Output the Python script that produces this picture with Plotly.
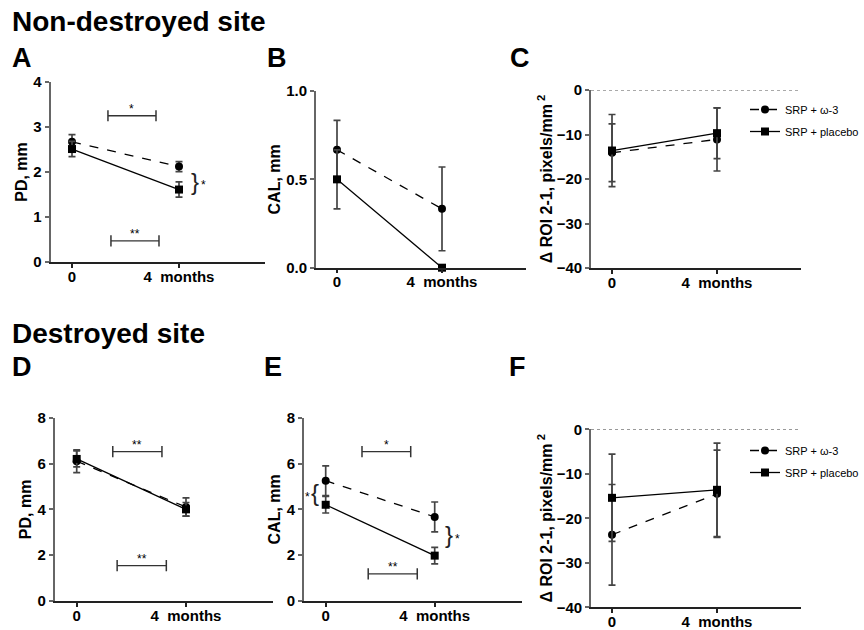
import plotly.graph_objects as go

# ---------------- data ----------------
timepoints = [0, 1]
time_labels = ["0", "4\u00a0\u00a0months"]
series_names = ["SRP + \u03c9-3", "SRP + placebo"]

# Panel A (non-destroyed, PD)
A_omega = [2.67, 2.12]
A_omega_err = [0.16, 0.11]
A_placebo = [2.51, 1.61]
A_placebo_err = [0.17, 0.17]
# Panel B (non-destroyed, CAL)
B_omega = [0.667, 0.333]
B_omega_err = [0.167, 0.237]
B_placebo = [0.5, 0.0]
B_placebo_err = [0.167, 0.0]
# Panel C (non-destroyed, ROI)
C_omega = [-14.1, -11.1]
C_omega_err = [6.5, 7.1]
C_placebo = [-13.6, -9.7]
C_placebo_err = [8.1, 5.7]
# Panel D (destroyed, PD)
D_omega = [6.1, 4.1]
D_omega_err = [0.5, 0.4]
D_placebo = [6.2, 4.0]
D_placebo_err = [0.35, 0.3]
# Panel E (destroyed, CAL)
E_omega = [5.25, 3.67]
E_omega_err = [0.65, 0.65]
E_placebo = [4.2, 1.98]
E_placebo_err = [0.36, 0.36]
# Panel F (destroyed, ROI)
F_omega = [-23.7, -14.5]
F_omega_err = [11.3, 9.8]
F_placebo = [-15.4, -13.6]
F_placebo_err = [9.8, 10.5]

# significance bars: (x_start, x_end, y, label)
A_sig = [(0.336, 0.785, 3.25, "*"), (0.364, 0.813, 0.47, "**")]
D_sig = [(0.33, 0.78, 6.52, "**"), (0.37, 0.82, 1.54, "**")]
E_sig = [(0.333, 0.78, 6.52, "*"), (0.39, 0.84, 1.18, "**")]
# braces: (x, y_center, char, star_x, star_y)
A_brace = [(1.15, 1.78, "}", 1.23, 1.78)]
E_brace = [(-0.098, 4.72, "{", -0.17, 4.68), (1.13, 2.9, "}", 1.21, 2.82)]

y_ticks = {
    "A": [0, 1, 2, 3, 4],
    "B": [0.0, 0.5, 1.0],
    "C": [0, -10, -20, -30, -40],
    "D": [0, 2, 4, 6, 8],
    "E": [0, 2, 4, 6, 8],
    "F": [0, -10, -20, -30, -40],
}
B_tick_text = ["0.0", "0.5", "1.0"]
y_ranges = {"A": [0, 4], "B": [0, 1], "C": [-40, 0], "D": [0, 8], "E": [0, 8], "F": [-40, 0]}
y_titles = {"A": "PD, mm", "B": "CAL, mm", "C": "\u0394 ROI 2-1, pixels/mm<sup> 2</sup>",
            "D": "PD, mm", "E": "CAL, mm", "F": "\u0394 ROI 2-1, pixels/mm<sup> 2</sup>"}

# ---------------- layout geometry (pixels) ----------------
W, H = 864, 630
FONT = "Arial, Liberation Sans, sans-serif"
# x pixel of time 0, px per unit, y top px, y bottom px
geom = {
    "A": (72, 107, 82, 262),
    "B": (337, 105, 91, 267.7),
    "C": (612, 105, 90, 268),
    "D": (76.7, 109.3, 417.7, 601),
    "E": (325.7, 109, 417.7, 601),
    "F": (612, 105, 429.3, 607.3),
}
XR = [-0.2, 1.8]

fig = go.Figure()
panels = ["A", "B", "C", "D", "E", "F"]
data = {
    "A": (A_omega, A_omega_err, A_placebo, A_placebo_err),
    "B": (B_omega, B_omega_err, B_placebo, B_placebo_err),
    "C": (C_omega, C_omega_err, C_placebo, C_placebo_err),
    "D": (D_omega, D_omega_err, D_placebo, D_placebo_err),
    "E": (E_omega, E_omega_err, E_placebo, E_placebo_err),
    "F": (F_omega, F_omega_err, F_placebo, F_placebo_err),
}

layout = dict(
    template="none",
    width=W, height=H, margin=dict(l=0, r=0, t=0, b=0, autoexpand=False),
    plot_bgcolor="white", paper_bgcolor="white",
    font=dict(family=FONT, color="black"),
    showlegend=True,
)

annotations = []
shapes = []

for i, p in enumerate(panels):
    n = "" if i == 0 else str(i + 1)
    xa, ya = "x" + n, "y" + n
    x0px, d, ytop, ybot = geom[p]
    dom_x = [(x0px + XR[0] * d) / W, (x0px + XR[1] * d) / W]
    dom_y = [1 - ybot / H, 1 - ytop / H]
    layout["xaxis" + n] = dict(
        domain=dom_x, range=XR, anchor=ya, tickmode="array", tickvals=timepoints,
        ticktext=time_labels, showline=True, linecolor="#222", linewidth=1.5,
        ticks="outside", ticklen=4, tickwidth=1.5, tickcolor="#222",
        ticklabelstandoff=-4,
        showgrid=False, zeroline=False, fixedrange=True, automargin=False,
        tickfont=dict(family=FONT, size=15, weight="bold", color="black"),
    )
    yax = dict(
        domain=dom_y, range=y_ranges[p], anchor=xa, tickmode="array",
        tickvals=y_ticks[p], showline=True, linecolor="#666", linewidth=1.8,
        ticks="outside", ticklen=4, tickwidth=1.5, tickcolor="#666",
        showgrid=False, zeroline=False, fixedrange=True, automargin=False,
        tickfont=dict(family=FONT, size=15, weight="bold", color="black"),
        title=dict(text=y_titles[p], standoff=2 if p not in ("C", "F") else 0,
                   font=dict(family=FONT, size=16, weight="bold", color="black")),
    )
    if p == "B":
        yax["ticktext"] = B_tick_text
    layout["yaxis" + n] = yax

    om, om_e, pl, pl_e = data[p]
    leg = "legend" if p == "C" else ("legend2" if p == "F" else None)
    for name, vals, errs, sym, dash, grp in [
        (series_names[0], om, om_e, "circle", "dash", "g1"),
        (series_names[1], pl, pl_e, "square", "solid", "g2"),
    ]:
        tr = dict(
            x=timepoints, y=vals, name=name, mode="lines+markers",
            xaxis=xa, yaxis=ya, cliponaxis=False,
            line=dict(color="black", width=1.3, dash=dash),
            marker=dict(symbol=sym, size=8, color="black"),
            error_y=dict(type="data", array=errs, visible=True, color="#444",
                         thickness=1.7, width=3.5),
            showlegend=leg is not None, legendgroup=grp + p,
        )
        if leg:
            tr["legend"] = leg
        fig.add_trace(go.Scatter(**tr))

    if p in ("C", "F"):
        shapes.append(dict(type="line", xref=xa + " domain", x0=0, x1=1, yref=ya,
                           y0=0, y1=0, line=dict(color="#555", width=1, dash="dot"),
                           layer="below"))

# significance bars
for p, sigs in [("A", A_sig), ("D", D_sig), ("E", E_sig)]:
    i = panels.index(p)
    n = "" if i == 0 else str(i + 1)
    for (xs, xe, yv, lab) in sigs:
        fig.add_trace(go.Scatter(
            x=[xs, xe], y=[yv, yv], mode="lines+markers", xaxis="x" + n, yaxis="y" + n,
            line=dict(color="#333", width=1.3), showlegend=False, hoverinfo="skip",
            marker=dict(symbol="line-ns-open", size=8, line=dict(color="#333", width=1.5)),
        ))
        annotations.append(dict(x=(xs + xe) / 2, y=yv, xref="x" + n, yref="y" + n,
                                text=lab, showarrow=False, yanchor="bottom", yshift=-2,
                                font=dict(family=FONT, size=12, color="black")))

for p, brs in [("A", A_brace), ("E", E_brace)]:
    i = panels.index(p)
    n = "" if i == 0 else str(i + 1)
    for (bx, by, ch, sx, sy) in brs:
        annotations.append(dict(x=bx, y=by, xref="x" + n, yref="y" + n, text=ch,
                                showarrow=False, xanchor="center", yanchor="middle",
                                font=dict(family=FONT, size=24, color="#222")))
        annotations.append(dict(x=sx, y=sy, xref="x" + n, yref="y" + n, text="*",
                                showarrow=False, xanchor="center", yanchor="middle", yshift=-3,
                                font=dict(family=FONT, size=12, color="black")))

# headings and panel letters
def paper_text(x, y, text, size):
    annotations.append(dict(x=x / W, y=1 - y / H, xref="paper", yref="paper", text=text,
                            showarrow=False, xanchor="left", yanchor="middle",
                            font=dict(family=FONT, size=size, weight="bold", color="black")))

paper_text(10, 22, "Non-destroyed site", 28)
paper_text(10, 58, "A", 27)
paper_text(265, 58, "B", 27)
paper_text(508, 58, "C", 27)
paper_text(10, 333, "Destroyed site", 28)
paper_text(10, 367, "D", 27)
paper_text(262, 367, "E", 27)
paper_text(507, 367, "F", 27)

leg_common = dict(xanchor="left", yanchor="top", bgcolor="rgba(0,0,0,0)",
                  font=dict(family=FONT, size=11, color="black"), tracegroupgap=3,
                  itemwidth=30)
layout["legend"] = dict(x=745 / W, y=1 - 95 / H, **leg_common)
layout["legend2"] = dict(x=745 / W, y=1 - 436 / H, **leg_common)
layout["annotations"] = annotations
layout["shapes"] = shapes
fig.update_layout(**layout)

fig.write_html(
    "out.html",
    config={"displayModeBar": False},
    post_script="document.body.style.margin='0';document.body.style.overflow='hidden';",
)
